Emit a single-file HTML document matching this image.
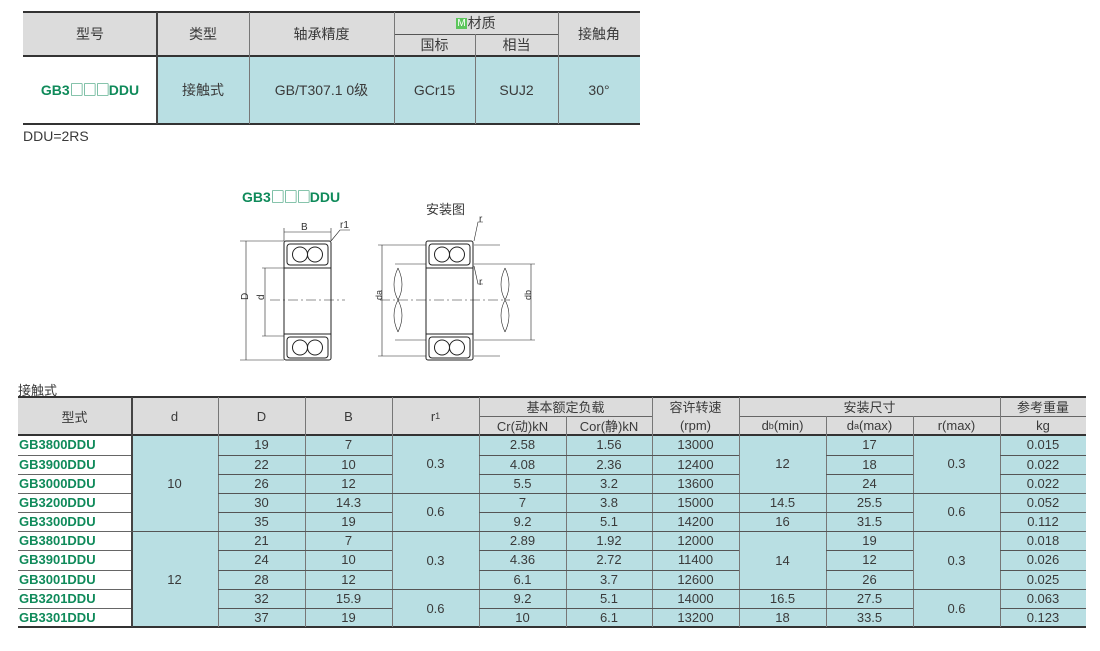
<!DOCTYPE html>
<html><head><meta charset="utf-8"><style>
body{margin:0;width:1100px;height:651px;background:#fff;position:relative;font-family:"Liberation Sans","Noto Sans CJK SC",sans-serif;color:#3a3a3a;overflow:hidden}
.a{position:absolute;box-sizing:border-box;display:flex;align-items:center;justify-content:center;font-size:13px}
.g{background:#dcdcdc}.c{background:#b9dfe3}.w{background:#fff}
.gr{color:#0f8a5a;font-weight:bold}
.bx{font-family:"Noto Sans CJK SC",sans-serif;font-weight:normal;letter-spacing:-1px}
</style></head><body>
<!-- top table -->
<div class="a g" style="left:23px;top:12px;width:617px;height:44px"></div>
<div class="a c" style="left:157px;top:56px;width:483px;height:68px"></div>
<div class="a" style="left:23px;top:11px;width:617px;height:2px;background:#333"></div>
<div class="a" style="left:23px;top:55px;width:617px;height:2px;background:#333"></div>
<div class="a" style="left:23px;top:123px;width:617px;height:2px;background:#333"></div>
<div class="a" style="left:394px;top:34px;width:164px;height:1px;background:#555"></div>
<div class="a" style="left:156px;top:12px;width:2px;height:112px;background:#444"></div>
<div class="a" style="left:249px;top:12px;width:1px;height:112px;background:#777"></div>
<div class="a" style="left:394px;top:12px;width:1px;height:112px;background:#777"></div>
<div class="a" style="left:475px;top:34px;width:1px;height:90px;background:#777"></div>
<div class="a" style="left:558px;top:12px;width:1px;height:112px;background:#777"></div>
<div class="a" style="left:23px;top:12px;width:134px;height:44px;font-size:14px">型号</div>
<div class="a" style="left:157px;top:12px;width:92px;height:44px;font-size:14px">类型</div>
<div class="a" style="left:249px;top:12px;width:145px;height:44px;font-size:14px">轴承精度</div>
<div class="a" style="left:394px;top:12px;width:164px;height:22px;font-size:14px"><span style="background:#5cc65c;color:#fff;font-size:10px;padding:0 1px;margin-right:1px">M</span>材质</div>
<div class="a" style="left:394px;top:34px;width:81px;height:22px;font-size:14px">国标</div>
<div class="a" style="left:475px;top:34px;width:83px;height:22px;font-size:14px">相当</div>
<div class="a" style="left:558px;top:12px;width:82px;height:44px;font-size:14px">接触角</div>
<div class="a gr" style="left:23px;top:56px;width:134px;height:68px;font-size:14px">GB3<span class="bx">□□□</span>DDU</div>
<div class="a" style="left:157px;top:56px;width:92px;height:68px;font-size:14px">接触式</div>
<div class="a" style="left:249px;top:56px;width:145px;height:68px;font-size:14px">GB/T307.1 0级</div>
<div class="a" style="left:394px;top:56px;width:81px;height:68px;font-size:14px">GCr15</div>
<div class="a" style="left:475px;top:56px;width:83px;height:68px;font-size:14px">SUJ2</div>
<div class="a" style="left:558px;top:56px;width:82px;height:68px;font-size:14px">30°</div>
<div class="a" style="left:23px;top:127px;height:18px;font-size:14px">DDU=2RS</div>

<!-- drawing -->
<div class="a gr" style="left:242px;top:188px;height:18px;font-size:14px">GB3<span class="bx">□□□</span>DDU</div>
<div class="a" style="left:426px;top:199px;height:18px;font-size:13px">安装图</div>
<svg style="position:absolute;left:0;top:0" width="1100" height="651" fill="none" stroke="#222" stroke-width="1">
<g id="brg">
<rect x="284" y="241" width="47" height="119" rx="2"/>
<line x1="284" y1="268" x2="331" y2="268"/><line x1="284" y1="334" x2="331" y2="334"/>
<rect x="287" y="244" width="41" height="21" rx="3"/>
<rect x="287" y="337" width="41" height="21" rx="3"/>
<circle cx="300" cy="254.5" r="7.5"/><circle cx="315" cy="254.5" r="7.5"/>
<circle cx="300" cy="347.5" r="7.5"/><circle cx="315" cy="347.5" r="7.5"/>
</g>
<use href="#brg" x="142" y="0"/>
<line x1="240" y1="241" x2="284" y2="241" stroke-width=".6"/><line x1="240" y1="360" x2="284" y2="360" stroke-width=".6"/>
<line x1="246" y1="241" x2="246" y2="360" stroke-width=".6"/>
<line x1="262" y1="268" x2="284" y2="268" stroke-width=".6"/><line x1="262" y1="336" x2="284" y2="336" stroke-width=".6"/>
<line x1="265" y1="268" x2="265" y2="336" stroke-width=".6"/>
<line x1="270" y1="300" x2="345" y2="300" stroke-width=".6" stroke-dasharray="10,3,2,3"/>
<line x1="284" y1="228" x2="284" y2="241" stroke-width=".6"/><line x1="331" y1="228" x2="331" y2="241" stroke-width=".6"/>
<line x1="284" y1="232" x2="331" y2="232" stroke-width=".6"/>
<polyline points="331,241 340,230 350,230" stroke-width=".6"/>
<line x1="378" y1="245" x2="426" y2="245" stroke-width=".6"/><line x1="378" y1="356" x2="426" y2="356" stroke-width=".6"/>
<line x1="474" y1="245" x2="500" y2="245" stroke-width=".6"/><line x1="474" y1="356" x2="500" y2="356" stroke-width=".6"/>
<line x1="382" y1="245" x2="382" y2="356" stroke-width=".6"/>
<line x1="395" y1="264" x2="426" y2="264" stroke-width=".6"/><line x1="395" y1="340" x2="426" y2="340" stroke-width=".6"/>
<line x1="474" y1="264" x2="535" y2="264" stroke-width=".6"/><line x1="474" y1="340" x2="535" y2="340" stroke-width=".6"/>
<line x1="531" y1="264" x2="531" y2="340" stroke-width=".6"/>
<path d="M398 268 Q390 285 398 300 Q406 315 398 332 M398 268 Q406 285 398 300 Q390 315 398 332" stroke-width=".6"/>
<path d="M505 268 Q497 285 505 300 Q513 315 505 332 M505 268 Q513 285 505 300 Q497 315 505 332" stroke-width=".6"/>
<line x1="380" y1="300" x2="510" y2="300" stroke-width=".6" stroke-dasharray="10,3,2,3"/>
<polyline points="474,241 478,222 483,222" stroke-width=".6"/>
<polyline points="474,266 478,284 483,284" stroke-width=".6"/>
<text x="301" y="230" font-size="10" fill="#333" stroke="none" font-family="Liberation Sans">B</text>
<text x="340" y="228" font-size="10" fill="#333" stroke="none" font-family="Liberation Sans">r1</text>
<text x="479" y="222" font-size="10" fill="#333" stroke="none" font-family="Liberation Sans">r</text>
<text x="479" y="285" font-size="10" fill="#333" stroke="none" font-family="Liberation Sans">r</text>
<text x="243" y="305" font-size="10" fill="#333" stroke="none" font-family="Liberation Sans" transform="rotate(-90 243 300)">D</text>
<text x="261" y="303" font-size="10" fill="#333" stroke="none" font-family="Liberation Sans" transform="rotate(-90 261 300)">d</text>
<text x="378" y="304" font-size="9" fill="#333" stroke="none" font-family="Liberation Sans" transform="rotate(-90 378 300)">da</text>
<text x="527" y="304" font-size="9" fill="#333" stroke="none" font-family="Liberation Sans" transform="rotate(-90 527 300)">db</text>
</svg>

<div class="a" style="left:18px;top:380px;height:18px;font-size:13px">接触式</div>
<!-- bottom table -->
<div id="bt"></div>
<script>
const X=[18,131,218,305,392,479,566,652,739,826,913,1000,1086];
const R=[435,454.5,473.5,492.5,512,531,550,569.5,589,608,627];
let h='';
function cell(x1,x2,y1,y2,t,cls,st){h+=`<div class="a ${cls||''}" style="left:${x1}px;top:${y1}px;width:${x2-x1}px;height:${y2-y1}px;${st||''}">${t}</div>`}
cell(18,1086,397,435,'','g');
cell(131,1086,435,627,'','c');
cell(18,131,435,627,'','w');
h+=`<div class="a" style="left:18px;top:396px;width:1068px;height:2px;background:#333"></div>`;
h+=`<div class="a" style="left:18px;top:434px;width:1068px;height:2px;background:#333"></div>`;
h+=`<div class="a" style="left:18px;top:626px;width:1068px;height:2px;background:#333"></div>`;
h+=`<div class="a" style="left:479px;top:416px;width:173px;height:1px;background:#666"></div>`;
h+=`<div class="a" style="left:739px;top:416px;width:261px;height:1px;background:#666"></div>`;
h+=`<div class="a" style="left:1000px;top:416px;width:86px;height:1px;background:#666"></div>`;
X.slice(1,-1).forEach((x,i)=>{let y1=397;if(x==566||x==826||x==913)y1=416;h+=`<div class="a" style="left:${x}px;top:${y1}px;width:${x==131?2:1}px;height:${627-y1}px;background:${x==131?'#444':'#777'}"></div>`});
for(let i=1;i<10;i++){
 let y=R[i];
 h+=`<div class="a" style="left:18px;top:${y}px;width:113px;height:1px;background:#666"></div>`;
 h+=`<div class="a" style="left:218px;top:${y}px;width:174px;height:1px;background:#555"></div>`;
 if(![1,2,4,6,7,9].includes(i)) h+=`<div class="a" style="left:392px;top:${y}px;width:87px;height:1px;background:#555"></div>`;
 h+=`<div class="a" style="left:479px;top:${y}px;width:260px;height:1px;background:#555"></div>`;
 if(![1,2,6,7].includes(i)) h+=`<div class="a" style="left:739px;top:${y}px;width:87px;height:1px;background:#555"></div>`;
 h+=`<div class="a" style="left:826px;top:${y}px;width:87px;height:1px;background:#555"></div>`;
 if(![1,2,4,6,7,9].includes(i)) h+=`<div class="a" style="left:913px;top:${y}px;width:87px;height:1px;background:#555"></div>`;
 h+=`<div class="a" style="left:1000px;top:${y}px;width:86px;height:1px;background:#555"></div>`;
 if(i==5) h+=`<div class="a" style="left:131px;top:${y}px;width:87px;height:1px;background:#555"></div>`;
}
cell(18,131,397,435,'型式');cell(131,218,397,435,'d');cell(218,305,397,435,'D');cell(305,392,397,435,'B');cell(392,479,397,435,'r<span style="font-size:9px">1</span>');
cell(479,652,397,416,'基本额定负载');cell(479,566,416,435,'Cr(动)kN');cell(566,652,416,435,'Cor(静)kN');
cell(652,739,397,416,'容许转速');cell(652,739,416,435,'(rpm)');
cell(739,1000,397,416,'安装尺寸');cell(739,826,416,435,'d<span style="font-size:9px">b</span>(min)');cell(826,913,416,435,'d<span style="font-size:9px">a</span>(max)');cell(913,1000,416,435,'r(max)');
cell(1000,1086,397,416,'参考重量');cell(1000,1086,416,435,'kg');
const D=[
['GB3800DDU','19','7','2.58','1.56','13000','17','0.015'],
['GB3900DDU','22','10','4.08','2.36','12400','18','0.022'],
['GB3000DDU','26','12','5.5','3.2','13600','24','0.022'],
['GB3200DDU','30','14.3','7','3.8','15000','25.5','0.052'],
['GB3300DDU','35','19','9.2','5.1','14200','31.5','0.112'],
['GB3801DDU','21','7','2.89','1.92','12000','19','0.018'],
['GB3901DDU','24','10','4.36','2.72','11400','12','0.026'],
['GB3001DDU','28','12','6.1','3.7','12600','26','0.025'],
['GB3201DDU','32','15.9','9.2','5.1','14000','27.5','0.063'],
['GB3301DDU','37','19','10','6.1','13200','33.5','0.123']];
D.forEach((r,i)=>{const y1=R[i],y2=R[i+1];
cell(18,131,y1,y2,r[0],'gr','justify-content:flex-start;padding-left:1px');
cell(218,305,y1,y2,r[1]);cell(305,392,y1,y2,r[2]);cell(479,566,y1,y2,r[3]);cell(566,652,y1,y2,r[4]);cell(652,739,y1,y2,r[5]);cell(826,913,y1,y2,r[6]);cell(1000,1086,y1,y2,r[7]);});
cell(131,218,435,531,'10');cell(131,218,531,627,'12');
cell(392,479,435,492.5,'0.3');cell(392,479,492.5,531,'0.6');cell(392,479,531,589,'0.3');cell(392,479,589,627,'0.6');
cell(739,826,435,492.5,'12');cell(739,826,492.5,512,'14.5');cell(739,826,512,531,'16');cell(739,826,531,589,'14');cell(739,826,589,608,'16.5');cell(739,826,608,627,'18');
cell(913,1000,435,492.5,'0.3');cell(913,1000,492.5,531,'0.6');cell(913,1000,531,589,'0.3');cell(913,1000,589,627,'0.6');
document.getElementById('bt').innerHTML=h;
</script>
</body></html>
